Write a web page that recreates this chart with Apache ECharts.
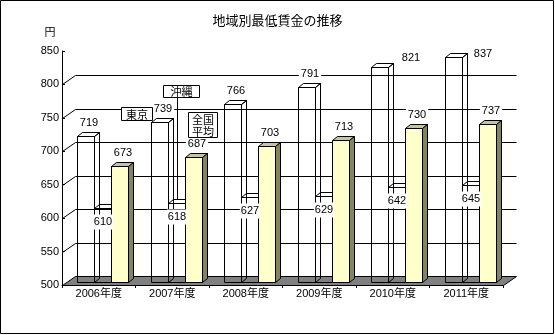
<!DOCTYPE html>
<html>
<head>
<meta charset="utf-8">
<script src="https://cdn.jsdelivr.net/npm/echarts@6/dist/echarts.min.js"></script>
<style>
html,body{margin:0;padding:0;background:#fff}
#chart{width:555px;height:335px}
</style>
</head>
<body>
<div id="chart"></div>
<script>
// 地域別最低賃金（円）
const chartTitle = '地域別最低賃金の推移';
const unitLabel = '円';
const years = ['2006年度', '2007年度', '2008年度', '2009年度', '2010年度', '2011年度'];
const seriesNames = ['東京', '沖縄', '全国平均'];
const tokyo = [719, 739, 766, 791, 821, 837];
const okinawa = [610, 618, 627, 629, 642, 645];
const national = [673, 687, 703, 713, 730, 737];
const yTicks = [500, 550, 600, 650, 700, 750, 800, 850];

const Y_MIN = yTicks[0];
const Y_MAX = yTicks[yTicks.length - 1];
const Y_STEP = yTicks[1] - yTicks[0];

// pseudo-3D geometry (pixels)
const WALL = [13, -9];   // depth of floor / back wall
const FRONT = [4, -3];   // bar front plane offset from the axis plane
const DEPTH = [5, -4];   // bar depth
const BAR_FRAC = 17 / 73.5;
const FONT = "'Liberation Sans','Noto Sans CJK JP',sans-serif";
const CJK = "'Noto Sans CJK JP',sans-serif";

const barStyles = [
  { front: 'none', top: 'none', side: 'none' },
  { front: 'none', top: 'none', side: 'none' },
  { front: '#ffffcc', top: '#c4c4a0', side: '#84845e' }
];

// value label placement for each series
const labelPlace = [
  { anchor: 'top', dy: -14, nudge: { 4: [28, 4], 5: [26, 10] } },
  { anchor: 'inside', dy: 13.5, nudge: {} },
  { anchor: 'top', dy: -14, nudge: {} }
];

const px = v => Math.round(v) + 0.5;

function barRenderer(k) {
  return function (params, api) {
    const i = api.value(0);
    const v = api.value(1);
    const band = api.size([1, 0])[0];
    const bw = Math.round(band * BAR_FRAC);
    const top = api.coord([i, v]);
    const base = api.coord([i, Y_MIN]);
    const x0 = px(top[0] + (k - 1.5) * bw + FRONT[0]);
    const x1 = x0 + bw;
    const yt = px(top[1] + FRONT[1]);
    const yb = px(base[1] + FRONT[1]);
    const dx = DEPTH[0], dy = DEPTH[1];
    const st = barStyles[k];
    const edge = { stroke: '#000', lineWidth: 1 };

    const lp = labelPlace[k];
    let lx, ly;
    if (lp.anchor === 'top') {
      lx = x0 + bw / 2 + dx / 2;
      ly = yt + lp.dy;
    } else {
      lx = x0 + bw / 2;
      ly = yt + lp.dy;
    }
    const n = lp.nudge[params.dataIndex];
    if (n) { lx += n[0]; ly += n[1]; }

    return {
      type: 'group',
      children: [
        { type: 'polygon', shape: { points: [[x0, yb], [x1, yb], [x1, yt], [x0, yt]] },
          style: Object.assign({ fill: st.front }, edge) },
        { type: 'polygon', shape: { points: [[x0, yt], [x1, yt], [x1 + dx, yt + dy], [x0 + dx, yt + dy]] },
          style: Object.assign({ fill: st.top }, edge) },
        { type: 'polygon', shape: { points: [[x1, yb], [x1 + dx, yb + dy], [x1 + dx, yt + dy], [x1, yt]] },
          style: Object.assign({ fill: st.side }, edge) },
        { type: 'text', z2: 100,
          style: { text: String(v), x: Math.round(lx), y: Math.round(ly), align: 'center', verticalAlign: 'middle',
                   font: '11px ' + FONT, fill: '#000', backgroundColor: '#fff',
                   padding: k === 1 ? [2, 1, 2, 1] : [1, 2, 1, 2] } }
      ]
    };
  };
}

function toPairs(arr) { return arr.map((v, i) => [i, v]); }

const chart = echarts.init(document.getElementById('chart'), null, { renderer: 'canvas' });

const option = {
  backgroundColor: '#fff',
  animation: false,
  title: {
    text: chartTitle, left: 'center', top: 9,
    textStyle: { fontSize: 13, fontWeight: 'normal', fontFamily: CJK, color: '#000' }
  },
  grid: { left: 62, right: 52, top: 51, bottom: 50 },
  xAxis: {
    type: 'category', data: years,
    axisLine: { show: true, lineStyle: { color: '#000', width: 1 } },
    axisTick: { show: true, length: 3, lineStyle: { color: '#000' } },
    axisLabel: { color: '#000', fontSize: 11, fontFamily: FONT, margin: 3 },
    splitLine: { show: false }
  },
  yAxis: {
    type: 'value', min: Y_MIN, max: Y_MAX, interval: Y_STEP,
    axisLine: { show: true, lineStyle: { color: '#000', width: 1 } },
    axisTick: { show: true, inside: true, length: 3, lineStyle: { color: '#000' } },
    axisLabel: { color: '#000', fontSize: 11, fontFamily: FONT, margin: 3 },
    splitLine: { show: false }
  },
  series: [
    {
      // floor
      type: 'custom', z: 1, silent: true,
      data: [[0, Y_MIN]],
      encode: { x: 0, y: 1 },
      renderItem: function (params, api) {
        const cs = params.coordSys;
        const yb = px(api.coord([0, Y_MIN])[1]);
        const xl = px(cs.x), xr = px(cs.x + cs.width);
        return {
          type: 'polygon',
          shape: { points: [[xl, yb], [xr, yb], [xr + WALL[0], yb + WALL[1]], [xl + WALL[0], yb + WALL[1]]] },
          style: { fill: '#808080', stroke: '#000', lineWidth: 1 }
        };
      }
    },
    {
      // back wall grid lines
      type: 'custom', z: 1, silent: true,
      data: yTicks.filter(v => v > Y_MIN && v < Y_MAX).map(v => [0, v]),
      encode: { x: 0, y: 1 },
      renderItem: function (params, api) {
        const cs = params.coordSys;
        const y = px(api.coord([0, api.value(1)])[1]);
        const x = px(cs.x);
        return {
          type: 'polyline',
          shape: { points: [[x, y], [x + WALL[0], y + WALL[1]], [x + cs.width + WALL[0], y + WALL[1]]] },
          style: { stroke: '#000', lineWidth: 1, fill: 'none' }
        };
      }
    },
    { name: seriesNames[0], type: 'custom', z: 2, data: toPairs(tokyo), encode: { x: 0, y: 1 }, renderItem: barRenderer(0) },
    { name: seriesNames[1], type: 'custom', z: 2, data: toPairs(okinawa), encode: { x: 0, y: 1 }, renderItem: barRenderer(1) },
    { name: seriesNames[2], type: 'custom', z: 2, data: toPairs(national), encode: { x: 0, y: 1 }, renderItem: barRenderer(2) }
  ]
};
chart.setOption(option);

// callout legend boxes
const p = chart.convertToPixel({ gridIndex: 0 }, [1, okinawa[1]]);
const leaderEnd = px(p[1] + FRONT[1] + DEPTH[1]);

function calloutBox(x, y, w, h, text) {
  return [
    { type: 'rect', z: 50, shape: { x: x + 0.5, y: y + 0.5, width: w, height: h },
      style: { fill: '#fff', stroke: '#000', lineWidth: 1 } },
    { type: 'text', z: 51, style: { text: text, x: x + w / 2 + 0.5, y: y + h / 2 + 1, align: 'center', verticalAlign: 'middle',
      font: '11px ' + CJK, fill: '#000', lineHeight: 12 } }
  ];
}

chart.setOption({
  graphic: [
    { type: 'rect', z: 60, shape: { x: 0.5, y: 0.5, width: 553, height: 333 },
      style: { fill: 'none', stroke: '#000', lineWidth: 1 } },
    { type: 'text', z: 50, style: { text: unitLabel, x: 50, y: 32, align: 'center', verticalAlign: 'middle',
      font: '11px ' + CJK, fill: '#000' } },
    { type: 'line', z: 49, shape: { x1: 177.5, y1: 97.5, x2: 177.5, y2: leaderEnd },
      style: { stroke: '#000', lineWidth: 1 } }
  ].concat(
    calloutBox(121, 107, 31, 13, seriesNames[0]),
    calloutBox(163, 85, 36, 12, seriesNames[1]),
    calloutBox(188, 112, 29, 25, seriesNames[2].slice(0, 2) + '\n' + seriesNames[2].slice(2))
  )
});
</script>
</body>
</html>
